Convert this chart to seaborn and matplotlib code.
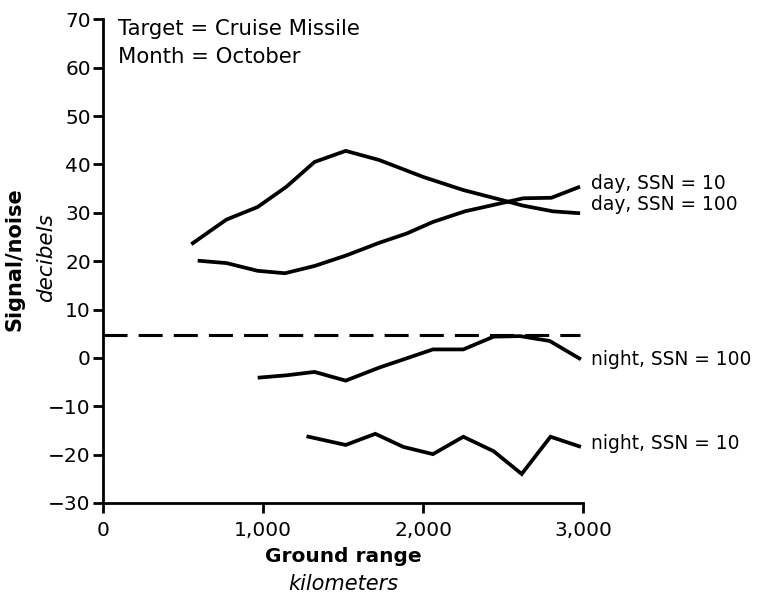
import matplotlib
matplotlib.use("Agg")
import matplotlib.pyplot as plt
import seaborn as sns
import pandas as pd

# Ground range (km) and signal/noise (dB) for each propagation case
day_ssn100_km = [550, 770, 965, 1145, 1320, 1515, 1725, 2000, 2250, 2530, 2620, 2810, 2980]
day_ssn100_db = [23.5, 28.6, 31.2, 35.4, 40.5, 42.8, 40.9, 37.4, 34.7, 32.3, 31.5, 30.3, 29.9]

day_ssn10_km = [590, 770, 965, 1135, 1320, 1520, 1725, 1895, 2060, 2260, 2530, 2625, 2800, 2980]
day_ssn10_db = [20.1, 19.6, 18.0, 17.5, 19.0, 21.2, 23.8, 25.7, 28.1, 30.3, 32.3, 33.0, 33.1, 35.4]

night_ssn100_km = [965, 1145, 1320, 1515, 1725, 1895, 2060, 2250, 2440, 2605, 2790, 2985]
night_ssn100_db = [-4.1, -3.6, -2.9, -4.7, -2.0, -0.1, 1.75, 1.75, 4.4, 4.5, 3.5, -0.3]

night_ssn10_km = [1270, 1515, 1700, 1875, 2060, 2250, 2440, 2615, 2795, 2985]
night_ssn10_db = [-16.2, -18.0, -15.7, -18.4, -19.9, -16.3, -19.3, -24.0, -16.3, -18.4]

# Detection threshold
threshold_db = 4.8
threshold_km = [0, 2980]

series_labels = ["day, SSN = 10", "day, SSN = 100", "night, SSN = 100", "night, SSN = 10"]

x_ticks = [0, 1000, 2000, 3000]
x_tick_labels = ["0", "1,000", "2,000", "3,000"]
y_ticks = [-30, -20, -10, 0, 10, 20, 30, 40, 50, 60, 70]

frames = []
for name, km, db in [
    (series_labels[0], day_ssn10_km, day_ssn10_db),
    (series_labels[1], day_ssn100_km, day_ssn100_db),
    (series_labels[2], night_ssn100_km, night_ssn100_db),
    (series_labels[3], night_ssn10_km, night_ssn10_db),
]:
    frames.append(pd.DataFrame({"case": name, "range_km": km, "snr_db": db}))
df = pd.concat(frames, ignore_index=True)

sns.set_theme(style="ticks")
plt.rcParams["font.family"] = ["DejaVu Sans"]
plt.rcParams["axes.unicode_minus"] = True
plt.rcParams["text.color"] = "black"

W, H = 770, 599
fig = plt.figure(figsize=(W / 100, H / 100), dpi=100)
fig.patch.set_facecolor("white")

x0, x1 = 103.3, 583.3
y_top, y_bot = 19.3, 503.0
ax = fig.add_axes([x0 / W, 1 - y_bot / H, (x1 - x0) / W, (y_bot - y_top) / H])
ax.set_facecolor("white")

for name in series_labels:
    sub = df[df["case"] == name]
    sns.lineplot(data=sub, x="range_km", y="snr_db", ax=ax, color="black",
                 linewidth=2.7, estimator=None, sort=False,
                 solid_capstyle="butt", solid_joinstyle="miter")

lw_d = 2.2
ax.plot(threshold_km, [threshold_db, threshold_db], color="black", linewidth=lw_d,
        linestyle=(0, (17.3 / lw_d, 8.0 / lw_d)), dash_capstyle="butt")

ax.set_xlim(0, 3000)
ax.set_ylim(-30, 70)
ax.set_xticks(x_ticks)
ax.set_xticklabels(x_tick_labels)
ax.set_yticks(y_ticks)
ax.set_xlabel("")
ax.set_ylabel("")

for side in ["top", "right"]:
    ax.spines[side].set_visible(False)
for side in ["left", "bottom"]:
    ax.spines[side].set_linewidth(2.0)
    ax.spines[side].set_color("black")
ax.tick_params(axis="both", direction="out", length=7, width=2, colors="black",
               labelsize=14.5)
ax.tick_params(axis="y", pad=2)
ax.tick_params(axis="x", pad=6)


def fx(px):
    return px / W


def fy(py):
    return 1 - py / H


# Header notes
fig.text(fx(118), fy(35), "Target = Cruise Missile", fontsize=15.3, va="baseline", ha="left")
fig.text(fx(118), fy(63), "Month = October", fontsize=15.3, va="baseline", ha="left")

# Direct labels beside the line ends
fig.text(fx(591), fy(189), series_labels[0], fontsize=13.4, va="baseline", ha="left")
fig.text(fx(591), fy(210), series_labels[1], fontsize=13.4, va="baseline", ha="left")
fig.text(fx(591), fy(365), series_labels[2], fontsize=13.4, va="baseline", ha="left")
fig.text(fx(591), fy(449), series_labels[3], fontsize=13.4, va="baseline", ha="left")

# Axis titles
fig.text(fx(15), fy(259), "Signal/noise", fontsize=15, fontweight="bold",
         rotation=90, ha="center", va="center")
fig.text(fx(46), fy(258), "decibels", fontsize=15.5, fontstyle="italic",
         rotation=90, ha="center", va="center")
fig.text(fx(343), fy(562), "Ground range", fontsize=14.5, fontweight="bold",
         ha="center", va="baseline")
fig.text(fx(343), fy(590), "kilometers", fontsize=15, fontstyle="italic",
         ha="center", va="baseline")

fig.savefig("out.png", dpi=100, facecolor="white")
